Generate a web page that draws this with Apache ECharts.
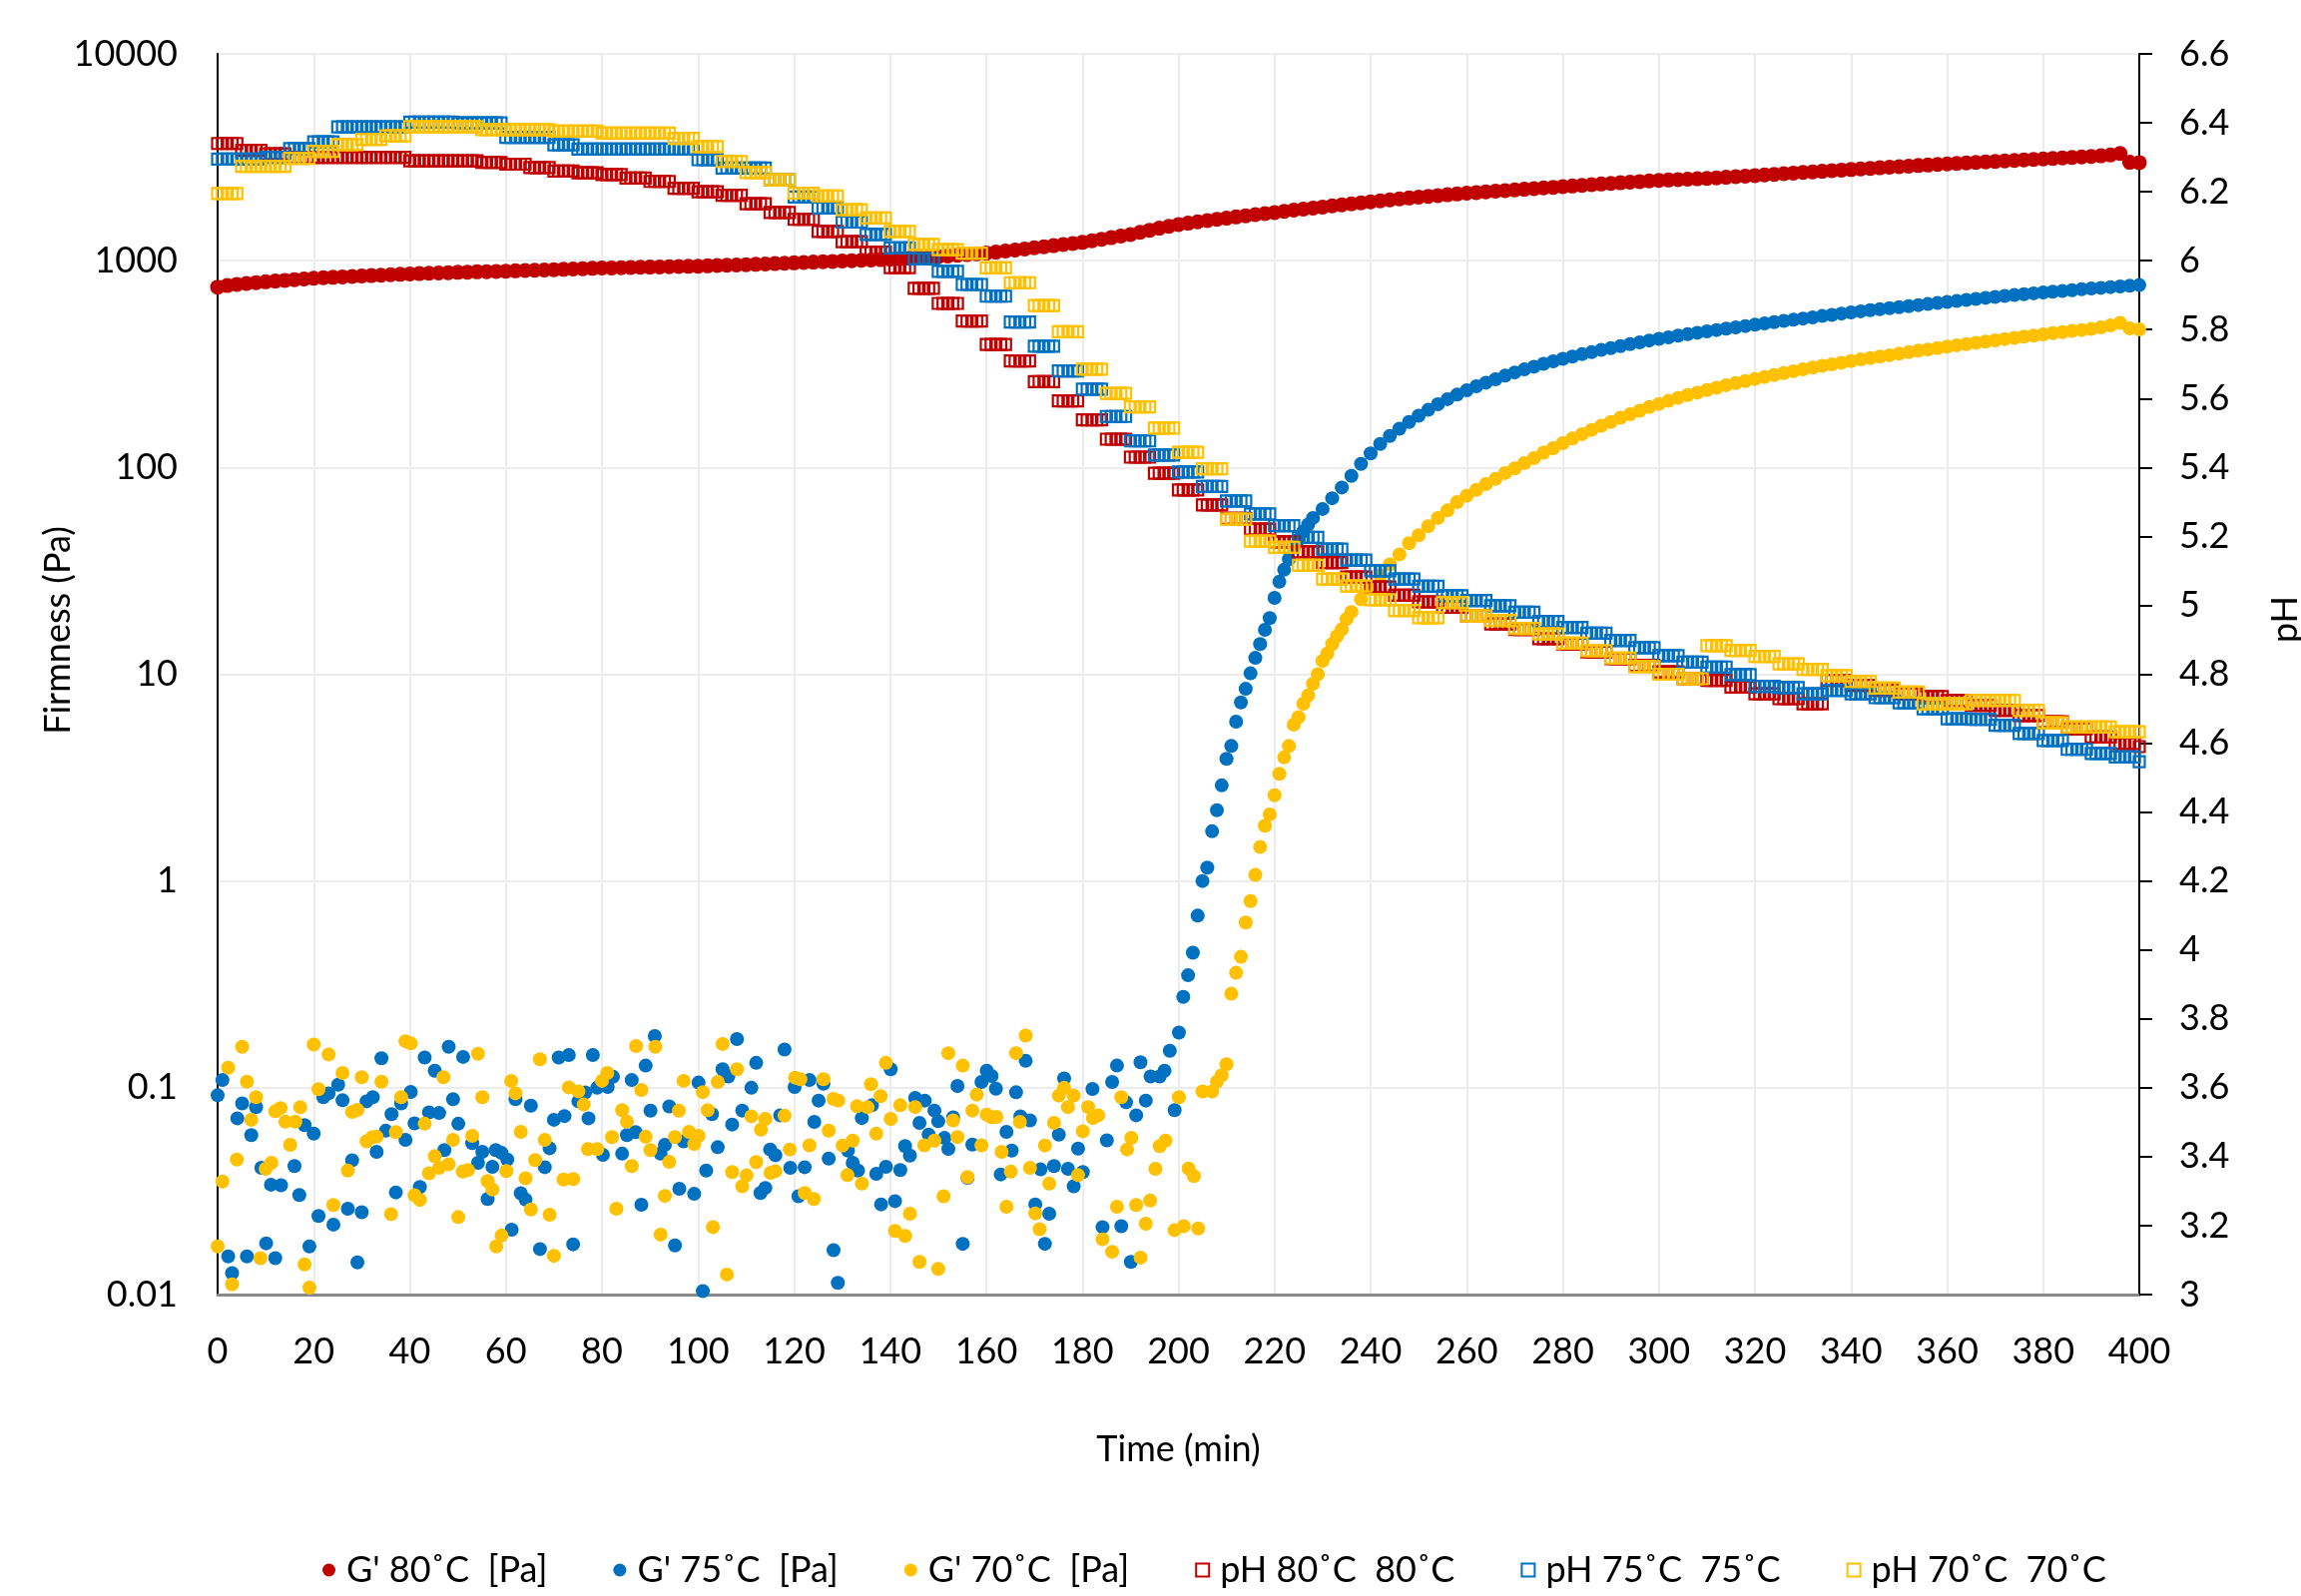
<!DOCTYPE html>
<html><head><meta charset="utf-8">
<script src="https://cdn.jsdelivr.net/npm/echarts@6/dist/echarts.min.js"></script>
<style>html,body{margin:0;padding:0;background:#fff;overflow:hidden;width:2305px;height:1599px}#c{position:absolute;left:0;top:0;width:2305px;height:1599px}</style>
</head><body><div id="c"></div>
<script>
const FONT = 'Lato, "Open Sans", sans-serif';
const RED = '#C00000', BLUE = '#0070C0', YEL = '#FFC000';

// ---- DATA ----
// G' 80°C, sampled every 2 min from t = 0
const g80Start = 0, g80Step = 2;
const g80 = [745,758,768,776,783,790,797,803,810,816,822,827,831,835,839,843,847,851,855,859,
863,866,869,872,875,878,880,883,885,887,890,893,896,899,902,905,908,912,915,918,
921,923,925,927,929,931,933,935,937,939,941,944,947,950,953,956,960,964,968,972,
976,980,984,988,992,996,1000,1004,1008,1012,1016,1022,1028,1034,1040,1046,1054,1062,1070,1079,
1088,1100,1113,1126,1140,1154,1168,1182,1196,1211,1226,1248,1270,1292,1315,1338,1372,1404,1436,1466,
1495,1518,1540,1562,1584,1605,1627,1649,1670,1690,1710,1733,1755,1776,1797,1818,1840,1862,1883,1905,
1925,1947,1968,1990,2010,2030,2048,2066,2084,2102,2120,2136,2152,2168,2184,2200,2216,2232,2248,2264,
2280,2297,2314,2331,2348,2365,2381,2397,2413,2429,2445,2456,2467,2478,2489,2500,2516,2532,2548,2564,
2580,2598,2616,2634,2652,2670,2688,2706,2724,2742,2760,2778,2796,2814,2832,2850,2867,2884,2901,2918,
2935,2952,2969,2986,3003,3020,3037,3054,3071,3088,3105,3122,3139,3156,3173,3190,3215,3245,3300,2990,2980];

// G' 75°C: noisy baseline + onset, as [time, G'] pairs
const g75Early = [[0,0.092],[1,0.109],[2.2,0.0153],[3,0.0127],[4.1,0.0712],[5.1,0.084],[6.1,0.0153],[7,0.059],[8,0.0806],[9.1,0.041],[10.1,0.0177],[11.1,0.034],[12,0.015],[13.2,0.0338],[16,0.0418],[17,0.0303],[18.1,0.066],[19.1,0.0171],[20,0.06],[21,0.024],[22,0.09],[23.1,0.094],[24.1,0.0218],[25.1,0.1035],[26,0.087],[27.1,0.026],[28,0.0446],[29.1,0.0143],[30,0.025],[31,0.086],[32.3,0.09],[33.1,0.049],[34.1,0.139],[35,0.062],[36.2,0.0745],[37.1,0.0312],[38.2,0.084],[39.1,0.056],[40.2,0.0955],[41,0.0673],[42.1,0.0331],[43.1,0.14],[44,0.076],[45.2,0.121],[46.1,0.0755],[47.2,0.05],[48.1,0.158],[49,0.088],[50.1,0.067],[51.1,0.141],[53,0.054],[54.2,0.0434],[55.1,0.049],[56.2,0.029],[57.2,0.0415],[57.9,0.05],[59.1,0.0484],[60.3,0.045],[61.2,0.0206],[62,0.088],[63.1,0.0309],[64.1,0.0288],[65.2,0.082],[67.1,0.0166],[68.1,0.0413],[69.1,0.051],[70,0.07],[71,0.14],[72.2,0.073],[73.1,0.144],[74,0.0175],[75.1,0.086],[76.5,0.095],[77.2,0.0712],[78.1,0.144],[79,0.1],[80.2,0.0474],[81.2,0.101],[82.3,0.113],[84.2,0.048],[85.2,0.059],[86.2,0.109],[87,0.061],[88.2,0.0272],[89.1,0.128],[90.1,0.0775],[91,0.178],[92.2,0.048],[93.1,0.053],[94,0.0812],[95.2,0.0173],[96.1,0.0325],[97,0.0551],[99.2,0.0307],[100.1,0.106],[101,0.0104],[101.7,0.0398],
[102.9,0.0745],[104.1,0.0516],[105.1,0.123],[106.3,0.1135],[107.1,0.0664],[108.1,0.172],[109.2,0.0776],[111.1,0.1],[112.1,0.132],[113,0.031],[114,0.0328],[115,0.0503],[116.1,0.0472],[117.1,0.0736],[118,0.153],[119.2,0.041],[120.1,0.1009],[120.9,0.0299],[122.2,0.0413],[123.2,0.109],[124.2,0.0684],[125.1,0.0867],[126.1,0.1045],[127.2,0.0455],[128.2,0.0164],[129.1,0.0114],[131.2,0.0497],[132.2,0.0434],[133.3,0.0398],[134.1,0.0714],[136.2,0.0823],[137.1,0.0384],[138.1,0.0273],[139.1,0.0415],[140.1,0.123],[141,0.0283],[142.1,0.04],[143.1,0.0522],[144.1,0.047],[145.2,0.0893],[146.1,0.0676],[147.2,0.0867],[148,0.0594],[149.2,0.0776],[150,0.0689],[151.3,0.0572],[152.1,0.0506],[153.1,0.072],[154,0.102],[155.1,0.0176],[156.1,0.0367],[157.1,0.0531],[159,0.1067],[160.1,0.121],[161.1,0.114],[162,0.099],[163,0.0381],[164.2,0.0612],[165.3,0.0497],[166.2,0.0951],[167.1,0.0728],[168.2,0.135],[169.1,0.0696],[170.2,0.0273],[171.3,0.0403],[172.2,0.0176],[173.1,0.0246],[174.1,0.0418],[175.1,0.0594],[176.2,0.111],[177,0.0406],[178.2,0.0334],[179.1,0.0508],[180.1,0.0391],[182.1,0.0987],[184.2,0.0212],[185.1,0.0557],[186.2,0.1067],[187.2,0.128],[188.1,0.0214],[189.1,0.0851],[190.1,0.0144],[191.2,0.0736],[192.1,0.133],[193.2,0.0867],[194.2,0.1135],[196.1,0.1135],[197.1,0.121],[198.2,0.151],[199.2,0.078],[200.1,0.185],
[201,0.275],[202,0.35],[203,0.45],[204,0.68],[205,1.0],[206,1.16],[207,1.74],[208,2.2],[209,2.9],[210,3.9],[211,4.5],[212,5.9],[213,7.3],[214,8.5],[215,10.1],[216,12],[217,14],[218,16.4],[219,18.7],[220,23.4],[221,28],[222,32],[223,36],[224,41],[225,45],[226,49],[227,53]];
// G' 75°C after gelation, every 2 min from t = 228
const g75LateStart = 228, g75LateStep = 2;
const g75Late = [57,63,71,80,91,104,117,130,142,154,166,178,190,202,214,225,236,247,257,267,
278,288,298,307,317,326,335,344,353,361,370,378,386,395,403,411,419,426,434,441,
448,455,462,469,476,483,490,497,504,511,518,525,532,540,547,555,562,569,576,582,
589,596,603,610,617,624,631,638,646,653,661,668,675,682,688,695,702,708,714,720,
727,733,739,745,750,756,762];

// G' 70°C: noisy baseline + onset, as [time, G'] pairs
const g70Early = [[0,0.0171],[1,0.0352],[2.2,0.125],[3,0.0112],[4,0.045],[5.1,0.158],[6.1,0.107],[7,0.07],[8,0.09],[8.9,0.015],[10,0.0406],[11.2,0.0434],[12,0.077],[13.1,0.0798],[14.1,0.0685],[15.1,0.053],[16.2,0.0685],[17.2,0.0805],[18.1,0.014],[19.1,0.0108],[20,0.162],[21,0.0985],[23.1,0.145],[24.1,0.0271],[26,0.118],[27.1,0.0398],[28,0.0765],[29.1,0.0782],[30,0.1125],[31,0.0551],[32.1,0.0575],[33.1,0.058],[34.1,0.107],[36.1,0.0245],[37.1,0.061],[38.2,0.09],[39.1,0.168],[40.2,0.164],[41,0.0302],[42.1,0.0287],[43.1,0.067],[44,0.0386],[45.2,0.0467],[46.1,0.041],[47,0.1125],[48.1,0.0427],[49,0.056],[50.1,0.0237],[51,0.0393],[52.1,0.04],[53,0.0585],[54.2,0.146],[55.1,0.09],[56.2,0.0354],[57.2,0.0322],[58,0.0171],[59.1,0.0193],[60.1,0.0396],[61.1,0.108],[62,0.094],[63.1,0.0612],[64.1,0.0365],[65.2,0.0258],[66.1,0.0447],[67.1,0.1375],[68.1,0.056],[69.1,0.0243],[70,0.0154],[72,0.036],[73.1,0.1005],[74,0.0362],[75.1,0.0961],[76.2,0.083],[77.1,0.0505],[79,0.0505],[80,0.108],[81.1,0.118],[82.1,0.0577],[83,0.026],[84.2,0.078],[85.2,0.0685],[86.2,0.0418],[87.1,0.159],[88.2,0.0975],[89.1,0.058],[90.1,0.05],[91.1,0.158],[92.2,0.0195],[93.1,0.03],[94,0.0438],[95.2,0.0577],[96,0.0775],[97,0.108],[98.1,0.0612],[99.2,0.0535],[100.1,0.0585],[101,0.0953],[102,0.078],
[103.1,0.0212],[104.1,0.1067],[105.1,0.163],[106,0.0125],[107.1,0.0391],[108.1,0.123],[109.2,0.0334],[110.1,0.0377],[111.1,0.0728],[112.1,0.0437],[113.1,0.0628],[114,0.0707],[115.1,0.0388],[116.1,0.0395],[118,0.0733],[119.1,0.0503],[120.2,0.112],[121.3,0.11],[122.2,0.031],[123.2,0.0527],[124.1,0.029],[126.1,0.11],[127.2,0.0621],[128.2,0.0883],[129.2,0.0867],[130.1,0.0526],[131.1,0.0378],[132.2,0.0555],[133.1,0.0814],[134.1,0.0344],[135.3,0.0805],[136,0.104],[137.1,0.06],[138,0.091],[139.1,0.132],[140.1,0.0707],[141,0.0203],[142.1,0.0823],[143.1,0.0192],[144.1,0.0246],[145.2,0.0807],[146.1,0.0144],[147.1,0.0527],[149.2,0.0555],[150,0.0133],[151.1,0.0299],[152.1,0.147],[153.1,0.0696],[154,0.0578],[155.1,0.128],[156.1,0.037],[157.1,0.0776],[158,0.0927],[159,0.0527],[160.1,0.0742],[161.1,0.072],[162.1,0.0723],[163.2,0.049],[164.2,0.0266],[165.1,0.0393],[166.2,0.147],[167,0.0684],[168.2,0.179],[169.1,0.041],[170.2,0.0247],[171.1,0.0207],[172.2,0.0526],[173.1,0.0344],[174.1,0.0676],[175.1,0.0917],[176.2,0.1],[177,0.0807],[178.2,0.0917],[179.1,0.0378],[180.1,0.0616],[181.2,0.0807],[182.2,0.0714],[183.3,0.0736],[184.2,0.0185],[186.2,0.0161],[187.2,0.0266],[188.1,0.09],[189.3,0.0503],[190.2,0.0572],[191.2,0.0271],[192.1,0.0151],[193.2,0.022],[194.1,0.0285],[195.2,0.0406],[196.1,0.0522],[197.3,0.0555],[199.2,0.0205],[200.1,0.09],[201.1,0.0214],[202.1,0.0407],[203.2,0.0374],[204.1,0.0209],
[205,0.096],[207,0.096],[208,0.107],[209,0.115],[210,0.13],[211,0.285],[212,0.36],[213,0.43],[214,0.63],[215,0.8],[216,1.07],[217,1.46],[218,1.85],[219,2.1],[220,2.6],[221,3.3],[222,3.96],[223,4.5],[224,5.7],[225,6.2],[226,7.2],[227,7.9],[228,9.0],[229,10],[230,11.6],[231,12.6],[232,14],[233,15.3],[234,16.5],[235,18.5]];
// G' 70°C after gelation, every 2 min from t = 236
const g70LateStart = 236, g70LateStep = 2;
const g70Late = [20,23,26,30,34,38,43,47,52,57,62,68,73,78,83,88,94,99,105,111,
118,124,131,138,145,152,159,166,174,181,188,196,203,210,217,224,230,237,243,250,
256,262,268,274,280,286,292,298,304,310,315,321,327,333,338,344,349,355,361,367,
372,378,384,390,395,401,406,412,418,423,429,434,440,446,451,457,462,468,476,486,
500,470,465];

// pH readings, one every 5 min (t = 0, 5, ... 400); each reading is logged for 5 consecutive 1-min points
const phStep = 5, phHold = 5;
const ph80 = [6.34,6.32,6.31,6.30,6.30,6.30,6.30,6.30,6.29,6.29,6.29,6.285,6.28,6.27,6.26,6.255,6.25,6.24,6.23,6.21,
6.20,6.19,6.165,6.14,6.12,6.085,6.055,6.025,5.98,5.92,5.876,5.825,5.757,5.709,5.649,5.593,5.538,5.482,5.43,5.383,
5.335,5.291,5.252,5.221,5.184,5.155,5.124,5.082,5.053,5.029,5.01,4.994,4.969,4.946,4.93,4.903,4.888,4.865,4.845,4.826,
4.807,4.787,4.782,4.763,4.743,4.729,4.714,4.782,4.768,4.753,4.743,4.735,4.724,4.71,4.695,4.68,4.662,4.642,4.618,4.599,4.59];
const ph75 = [6.295,6.295,6.30,6.325,6.345,6.388,6.388,6.388,6.402,6.402,6.40,6.40,6.358,6.358,6.336,6.324,6.324,6.324,6.324,6.324,
6.293,6.269,6.269,6.235,6.185,6.153,6.112,6.076,6.037,6.005,5.969,5.931,5.897,5.822,5.752,5.68,5.627,5.548,5.477,5.436,
5.387,5.345,5.303,5.265,5.231,5.197,5.163,5.131,5.10,5.076,5.055,5.028,5.014,4.999,4.98,4.953,4.936,4.919,4.898,4.877,
4.854,4.835,4.821,4.799,4.765,4.761,4.743,4.753,4.743,4.732,4.717,4.70,4.671,4.669,4.652,4.628,4.608,4.582,4.57,4.56,4.546];
const ph70 = [6.195,6.274,6.274,6.297,6.317,6.337,6.352,6.362,6.389,6.389,6.389,6.38,6.38,6.38,6.376,6.376,6.37,6.37,6.37,6.355,
6.331,6.288,6.256,6.235,6.196,6.188,6.148,6.124,6.085,6.047,6.032,6.022,5.979,5.936,5.87,5.794,5.685,5.615,5.576,5.514,
5.444,5.396,5.25,5.186,5.168,5.116,5.076,5.056,5.016,4.985,4.964,5.008,4.969,4.956,4.933,4.917,4.89,4.868,4.847,4.822,
4.8,4.787,4.883,4.869,4.852,4.83,4.814,4.796,4.779,4.76,4.748,4.714,4.714,4.724,4.724,4.695,4.659,4.647,4.647,4.633,4.633];

const leftTickLabels = ['0.01','0.1','1','10','100','1000','10000'];
const seriesNames = ["G' 80˚C  [Pa]", "G' 75˚C  [Pa]", "G' 70˚C  [Pa]", "pH 80˚C  80˚C", "pH 75˚C  75˚C", "pH 70˚C  70˚C"];

// ---- build data ----
const grid = (arr, start, step) => arr.map((v, i) => [start + i * step, v]);
const phPoints = arr => {
  const out = [];
  arr.forEach((v, i) => { for (let k = 0; k < phHold; k++) { const t = i * phStep + k; if (t <= 400) out.push([t, v]); } });
  return out;
};
const d80 = grid(g80, g80Start, g80Step);
const d75 = g75Early.concat(grid(g75Late, g75LateStart, g75LateStep));
const d70 = g70Early.concat(grid(g70Late, g70LateStart, g70LateStep));

const txt = { fontFamily: FONT, fontSize: 36, color: '#000' };
const dot = (name, data, color, size) => ({ type: 'scatter', name, data, yAxisIndex: 0, symbol: 'circle', symbolSize: size, itemStyle: { color, opacity: 1 }, emphasis: { disabled: true } });
const sq = (name, data, color) => ({ type: 'scatter', name, data, yAxisIndex: 1, symbol: 'rect', symbolSize: [11, 11], itemStyle: { color: 'rgba(255,255,255,0)', borderColor: color, borderWidth: 2.2, opacity: 1 }, emphasis: { disabled: true } });

const chart = echarts.init(document.getElementById('c'), null, { renderer: 'canvas', width: 2305, height: 1599 });
chart.setOption({
  animation: false,
  backgroundColor: '#fff',
  grid: { left: 218, right: 162, top: 54, bottom: 302, outerBoundsMode: 'none', containLabel: false, show: true, borderColor: '#898989', borderWidth: 2, backgroundColor: 'rgba(0,0,0,0)' },
  legend: {
    left: 318, top: 1550, orient: 'horizontal', itemWidth: 13, itemHeight: 13, itemGap: 66,
    textStyle: Object.assign({}, txt, { padding: [0, 0, 0, 6] }),
    data: [
      { name: seriesNames[0], icon: 'circle', itemStyle: { color: RED } },
      { name: seriesNames[1], icon: 'circle', itemStyle: { color: BLUE } },
      { name: seriesNames[2], icon: 'circle', itemStyle: { color: YEL } },
      { name: seriesNames[3], icon: 'rect', itemStyle: { color: 'rgba(255,255,255,0)', borderColor: RED, borderWidth: 2 } },
      { name: seriesNames[4], icon: 'rect', itemStyle: { color: 'rgba(255,255,255,0)', borderColor: BLUE, borderWidth: 2 } },
      { name: seriesNames[5], icon: 'rect', itemStyle: { color: 'rgba(255,255,255,0)', borderColor: YEL, borderWidth: 2 } }
    ]
  },
  xAxis: {
    type: 'value', min: 0, max: 400, interval: 20,
    axisLine: { show: true, onZero: false, lineStyle: { color: '#898989', width: 3 } },
    axisTick: { show: false },
    axisLabel: Object.assign({ margin: 39 }, txt),
    splitLine: { show: true, lineStyle: { color: '#ececec', width: 2 } },
    name: 'Time (min)', nameLocation: 'middle', nameGap: 137, nameTextStyle: txt
  },
  yAxis: [
    {
      type: 'log', logBase: 10, min: 0.01, max: 10000, position: 'left',
      axisLine: { show: true, onZero: false, lineStyle: { color: '#000', width: 2 } },
      axisTick: { show: false },
      axisLabel: Object.assign({ margin: 40, formatter: v => { const i = Math.round(Math.log10(v)) + 2; return leftTickLabels[i] || ''; } }, txt),
      splitLine: { show: true, lineStyle: { color: '#ececec', width: 2 } },
      name: 'Firmness (Pa)', nameLocation: 'middle', nameGap: 142, nameMoveOverlap: false,
      nameTextStyle: Object.assign({}, txt, { padding: [0, 0, 0, 88] })
    },
    {
      type: 'value', min: 3, max: 6.6, interval: 0.2, position: 'right',
      axisLine: { show: true, onZero: false, lineStyle: { color: '#000', width: 2 } },
      axisTick: { show: true, inside: false, length: 13, lineStyle: { color: '#000', width: 2 } },
      axisLabel: Object.assign({ margin: 40, formatter: v => String(+(+v).toFixed(1)) }, txt),
      splitLine: { show: false },
      name: 'pH', nameLocation: 'middle', nameGap: 128, nameMoveOverlap: false,
      nameTextStyle: Object.assign({}, txt, { padding: [0, 0, 0, 110] })
    }
  ],
  series: [
    dot(seriesNames[0], d80, RED, 15),
    dot(seriesNames[1], d75, BLUE, 14),
    dot(seriesNames[2], d70, YEL, 14),
    sq(seriesNames[3], phPoints(ph80), RED),
    sq(seriesNames[4], phPoints(ph75), BLUE),
    sq(seriesNames[5], phPoints(ph70), YEL)
  ]
});
</script></body></html>
